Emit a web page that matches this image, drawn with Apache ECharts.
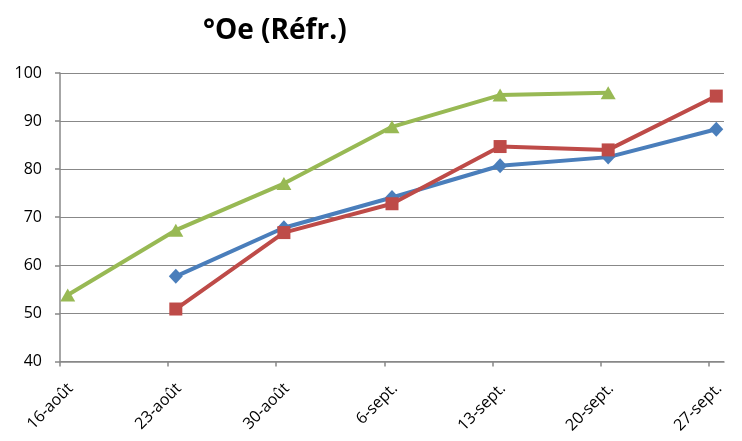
<!DOCTYPE html>
<html>
<head>
<meta charset="utf-8">
<script src="https://cdn.jsdelivr.net/npm/echarts@6/dist/echarts.min.js"></script>
<style>
html,body{margin:0;padding:0;background:#fff;}
#chart{width:742px;height:441px;}
</style>
</head>
<body>
<div id="chart"></div>
<script>
// Week labels (dates) on the x axis
var dates = ['16-août', '23-août', '30-août', '6-sept.', '13-sept.', '20-sept.', '27-sept.'];
// Series values, one per date (null = no measurement)
var serieBleue = [null, 57.7, 67.8, 74.1, 80.7, 82.5, 88.3];
var serieRouge = [null, 50.9, 66.8, 72.8, 84.7, 84.0, 95.2];
var serieVerte = [53.8, 67.3, 77.0, 88.8, 95.4, 95.9, null];
var yTicks = [40, 50, 60, 70, 80, 90, 100];
var title = '°Oe (Réfr.)';

var DAYS_PER_WEEK = 7;
function toPoints(values) {
  var out = [];
  values.forEach(function (v, i) {
    if (v !== null) out.push([i * DAYS_PER_WEEK + 0.5, v]);
  });
  return out;
}
var tickDays = dates.map(function (d, i) { return i * DAYS_PER_WEEK; });

var chart = echarts.init(document.getElementById('chart'), null, {renderer: 'canvas'});
var font = '"Open Sans", "DejaVu Sans", sans-serif';
var grey = '#888888';

chart.setOption({
  animation: false,
  backgroundColor: '#ffffff',
  title: {
    text: title,
    left: 198,
    top: 12,
    textStyle: {fontFamily: font, fontSize: 28, fontWeight: 'bold', color: '#000000'}
  },
  grid: {left: 60, right: 18, top: 73, bottom: 78, containLabel: false},
  xAxis: {
    type: 'value',
    min: 0,
    max: dates.length * DAYS_PER_WEEK - DAYS_PER_WEEK + 1,
    interval: DAYS_PER_WEEK,
    splitLine: {show: false},
    axisLine: {show: true, lineStyle: {color: grey, width: 1.5}},
    axisTick: {show: true, length: 5, lineStyle: {color: grey, width: 1.5}, customValues: tickDays},
    axisLabel: {
      customValues: tickDays,
      rotate: 45,
      margin: 14,
      verticalAlign: 'top',
      lineHeight: 30,
      fontFamily: font,
      fontSize: 16,
      color: '#000000',
      formatter: function (v) { return dates[Math.round(v / DAYS_PER_WEEK)] || ''; }
    }
  },
  yAxis: {
    type: 'value',
    min: yTicks[0],
    max: yTicks[yTicks.length - 1],
    interval: 10,
    axisLine: {show: true, lineStyle: {color: grey, width: 1.5}},
    axisTick: {show: true, length: 5, lineStyle: {color: grey, width: 1.5}},
    splitLine: {show: true, lineStyle: {color: grey, width: 1.2}},
    axisLabel: {margin: 18, fontFamily: font, fontSize: 16, color: '#000000'}
  },
  series: [
    {
      name: 'Bleu', type: 'line', data: toPoints(serieBleue),
      symbol: 'diamond', symbolSize: [14, 15],
      lineStyle: {color: '#4A7EBB', width: 4},
      itemStyle: {color: '#4A7EBB'}
    },
    {
      name: 'Rouge', type: 'line', data: toPoints(serieRouge),
      symbol: 'rect', symbolSize: 13,
      lineStyle: {color: '#BE4B48', width: 4},
      itemStyle: {color: '#BE4B48'}
    },
    {
      name: 'Vert', type: 'line', data: toPoints(serieVerte),
      symbol: 'triangle', symbolSize: [15, 13],
      lineStyle: {color: '#98B954', width: 4},
      itemStyle: {color: '#98B954'}
    }
  ]
});
</script>
</body>
</html>
